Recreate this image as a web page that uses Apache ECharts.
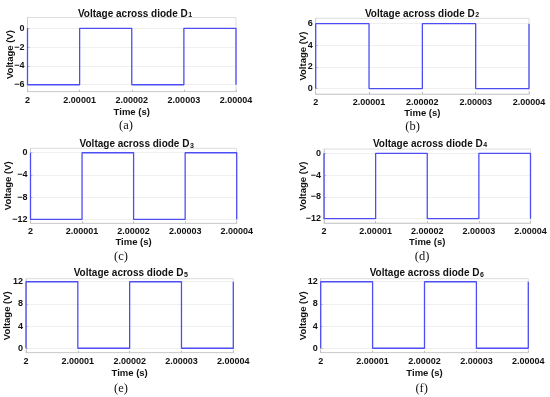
<!DOCTYPE html>
<html>
<head>
<meta charset="utf-8">
<script src="https://cdn.jsdelivr.net/npm/echarts@6/dist/echarts.min.js"></script>
<style>
html,body{margin:0;padding:0;background:#fff;}
#main{width:550px;height:397px;}
</style>
</head>
<body>
<div id="main"></div>
<script>
// ---- data ----
const timeTicks = [2, 2.00001, 2.00002, 2.00003, 2.00004];
const timeLabels = ['2', '2.00001', '2.00002', '2.00003', '2.00004'];
const stepTimes = [2, 2, 2.00001, 2.00001, 2.00002, 2.00002, 2.00003, 2.00003, 2.00004, 2.00004];

const vD1 = [0, -6, -6, 0, 0, -6, -6, 0, 0, -6];
const vD2 = [0, 6, 6, 0, 0, 6, 6, 0, 0, 6];
const vD3 = [0, -12, -12, 0, 0, -12, -12, 0, 0, -12];
const vD4 = [0, -12, -12, 0, 0, -12, -12, 0, 0, -12];
const vD5 = [0, 12, 12, 0, 0, 12, 12, 0, 0, 12];
const vD6 = [0, 12, 12, 0, 0, 12, 12, 0, 0, 12];

const yTicksD1 = [-6, -4, -2, 0];
const yTicksD2 = [0, 2, 4, 6];
const yTicksD3 = [-12, -8, -4, 0];
const yTicksD4 = [-12, -8, -4, 0];
const yTicksD5 = [0, 4, 8, 12];
const yTicksD6 = [0, 4, 8, 12];

const titleMain = 'Voltage across diode D';
const titleSubs = ['1', '2', '3', '4', '5', '6'];
const captions = ['(a)', '(b)', '(c)', '(d)', '(e)', '(f)'];
const xName = 'Time (s)';
const yName = 'Voltage (V)';

// ---- layout (positions / styles) ----
const panels = [
  {v: vD1, yt: yTicksD1, left: 27.5, top: 17.5, width: 208.5, height: 74.2, ymin: -6.74, ymax: 1.15, yGap: 12, xGap: 15.5, tx: 135, ty: 7, cx: 126, cy: 119.5},
  {v: vD2, yt: yTicksD2, left: 315.7, top: 18.3, width: 213.3, height: 75.7, ymin: -0.5, ymax: 6.5, yGap: 7, xGap: 14, tx: 422, ty: 7, cx: 412.5, cy: 120.5},
  {v: vD3, yt: yTicksD3, left: 30.5, top: 148.3, width: 206.2, height: 75, ymin: -12.7, ymax: 0.8, yGap: 17.5, xGap: 14, tx: 136.7, ty: 137.5, cx: 121, cy: 250.5},
  {v: vD4, yt: yTicksD4, left: 324, top: 149, width: 206.5, height: 74, ymin: -12.8, ymax: 0.8, yGap: 15.2, xGap: 14.5, tx: 430, ty: 137, cx: 422, cy: 250.5},
  {v: vD5, yt: yTicksD5, left: 26, top: 278.7, width: 207.3, height: 74, ymin: -0.8, ymax: 12.55, yGap: 13.2, xGap: 15.5, tx: 130.8, ty: 266.5, cx: 121, cy: 382.5},
  {v: vD6, yt: yTicksD6, left: 320.7, top: 278.7, width: 207.6, height: 74, ymin: -0.8, ymax: 12.55, yGap: 12, xGap: 15.5, tx: 426.8, ty: 266.5, cx: 421.7, cy: 382.5}
];

const lineColor = '#4d4df5';
const axisColor = '#cfcfcf';
const fontFam = '"Liberation Sans", Arial, sans-serif';

const grid = [], xAxis = [], yAxis = [], series = [], title = [];
panels.forEach((p, i) => {
  grid.push({left: p.left, top: p.top, width: p.width, height: p.height, show: true,
             borderColor: '#dcdcdc', borderWidth: 1, containLabel: false});
  xAxis.push({
    type: 'value', gridIndex: i, min: 2, max: 2.00004,
    name: xName, nameLocation: 'middle', nameGap: p.xGap, nameMoveOverlap: false,
    nameTextStyle: {fontFamily: fontFam, fontWeight: 'bold', fontSize: 9.5, color: '#111'},
    axisLine: {show: true, onZero: false, lineStyle: {color: axisColor, width: 1}},
    axisTick: {show: true, inside: true, length: 2, customValues: timeTicks, lineStyle: {color: '#bdbdbd'}},
    axisLabel: {customValues: timeTicks, margin: 4, fontFamily: fontFam, fontWeight: 'bold', fontSize: 9, color: '#111',
                formatter: (val) => timeLabels[timeTicks.findIndex(t => Math.abs(t - val) < 1e-9)] ?? ''},
    splitLine: {show: false}
  });
  yAxis.push({
    type: 'value', gridIndex: i, min: p.ymin, max: p.ymax,
    name: yName, nameLocation: 'middle', nameGap: p.yGap, nameRotate: 90, nameMoveOverlap: false,
    nameTextStyle: {fontFamily: fontFam, fontWeight: 'bold', fontSize: 9.5, color: '#111'},
    axisLine: {show: true, lineStyle: {color: axisColor, width: 1}},
    axisTick: {show: true, inside: true, length: 2, customValues: p.yt, lineStyle: {color: '#bdbdbd'}},
    axisLabel: {customValues: p.yt, margin: 3, fontFamily: fontFam, fontWeight: 'bold', fontSize: 9, color: '#111',
                formatter: (val) => String(Math.round(val)).replace('-', '\u2212')},
    splitLine: {show: true, lineStyle: {color: '#efefef', width: 1}}
  });
  series.push({
    type: 'line', xAxisIndex: i, yAxisIndex: i, showSymbol: false, symbol: 'none',
    data: stepTimes.map((t, k) => [t, p.v[k]]),
    lineStyle: {color: lineColor, width: 1.3}, animation: false, clip: true
  });
  title.push({text: '{m|' + titleMain + '}{s|' + titleSubs[i] + '}', left: p.tx, top: p.ty, textAlign: 'center', padding: 0,
              textStyle: {fontFamily: fontFam, fontWeight: 'bold', fontSize: 10, color: '#111',
                rich: {
                  m: {fontFamily: fontFam, fontWeight: 'bold', fontSize: 10, color: '#111', lineHeight: 12, verticalAlign: 'bottom'},
                  s: {fontFamily: fontFam, fontWeight: 'bold', fontSize: 7, color: '#111', lineHeight: 8, verticalAlign: 'bottom', padding: [0, 0, 0, 0.5]}
                }}});
  title.push({text: captions[i], left: p.cx, top: p.cy, textAlign: 'center', padding: 0,
              textStyle: {fontFamily: '"Liberation Serif", "Times New Roman", serif', fontWeight: 'normal', fontSize: 12.5, color: '#111'}});
});

const chart = echarts.init(document.getElementById('main'), null, {renderer: 'canvas'});
chart.setOption({animation: false, backgroundColor: '#fff', title, grid, xAxis, yAxis, series});
</script>
</body>
</html>
